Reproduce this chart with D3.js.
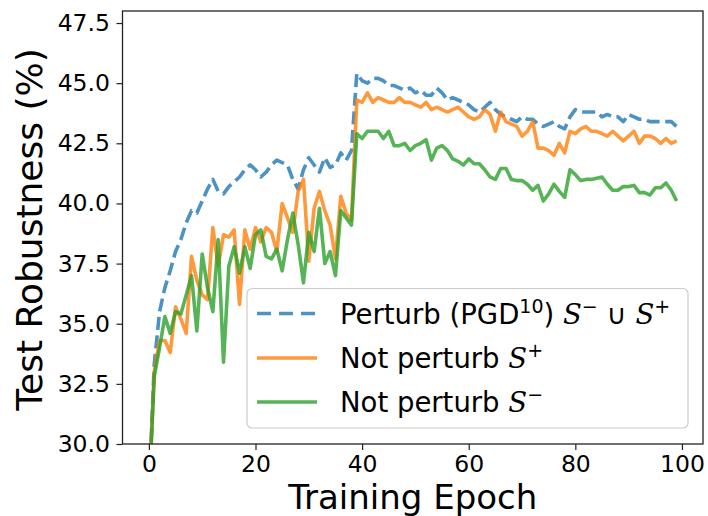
<!DOCTYPE html>
<html><head><meta charset="utf-8">
<script src="https://cdn.jsdelivr.net/npm/d3@7"></script>
<style>
body{margin:0;background:#fff}
svg{display:block}
text{font-family:"DejaVu Sans",sans-serif;fill:#000}
</style>
</head><body>
<svg id="chart" width="708" height="516"></svg>
<script>
// ---------------- data ----------------
const epochs = d3.range(100);
const perturbAll = [
 27.8,33.3,35.5,36.5,37.2,38.0,38.5,39.2,39.7,39.6,
 40.1,40.6,41.0,40.5,40.4,40.7,40.9,41.1,41.4,41.6,
 41.4,41.1,41.3,41.6,41.8,41.7,41.6,41.0,40.6,41.4,
 41.9,41.6,41.3,41.9,41.5,41.6,42.1,41.8,42.2,45.4,
 45.1,45.0,45.2,45.2,45.1,44.9,44.9,44.8,44.7,44.8,
 44.6,44.7,44.5,44.5,44.8,44.6,44.3,44.4,44.3,44.2,
 44.1,43.9,43.8,44.0,44.2,43.9,43.7,43.6,43.5,43.4,
 43.6,43.5,43.5,43.3,43.2,43.3,43.4,43.2,43.1,43.6,
 43.9,43.8,43.8,43.8,43.8,43.6,43.7,43.6,43.6,43.4,
 43.7,43.6,43.5,43.5,43.4,43.4,43.4,43.4,43.4,43.2
];
const notPerturbPlus = [
 27.8,33.0,34.3,34.3,33.8,35.7,35.2,34.6,37.8,36.8,
 36.2,36.0,39.0,37.4,38.7,38.6,38.9,35.8,38.9,38.1,
 39.0,38.4,39.0,38.8,38.0,40.0,39.4,38.8,40.5,41.0,
 37.6,39.8,40.5,39.7,39.1,37.7,40.3,39.6,39.3,44.3,
 44.2,44.6,44.2,44.4,44.3,44.2,44.2,44.4,44.2,44.2,
 44.1,44.0,44.2,43.9,44.0,43.9,43.8,43.9,44.0,43.8,
 43.6,43.5,43.6,43.9,43.7,43.0,43.8,43.4,43.3,43.2,
 42.8,43.0,43.4,42.3,42.3,42.2,42.0,42.5,42.1,43.0,
 42.9,43.1,43.2,43.0,43.0,42.9,42.8,43.0,42.8,42.6,
 42.8,43.0,42.5,42.8,42.8,42.7,42.5,42.7,42.5,42.6
];
const notPerturbMinus = [
 27.8,32.8,34.0,35.3,34.6,35.5,35.4,36.2,37.0,34.7,
 37.9,36.5,35.5,38.5,33.4,37.4,38.2,37.1,38.2,37.3,
 38.7,38.9,37.8,37.7,38.1,37.2,38.5,39.6,38.3,36.7,
 38.8,38.0,39.8,37.5,38.0,37.0,39.7,39.4,39.1,42.9,
 42.7,43.0,43.0,43.0,42.7,43.0,42.4,42.4,42.5,42.2,
 42.4,42.5,42.65,41.8,42.3,42.4,42.2,41.85,41.75,41.6,
 41.85,41.65,41.65,41.4,41.1,41.0,41.45,41.45,41.0,40.95,
 40.95,40.8,40.55,40.75,40.1,40.4,40.8,40.5,40.25,41.4,
 41.2,40.95,41.0,41.0,41.05,41.1,40.8,40.55,40.55,40.7,
 40.7,40.75,40.45,40.45,40.35,40.65,40.65,40.85,40.55,40.1
];
const xTickValues = [0,20,40,60,80,100];
const yTickValues = [30.0,32.5,35.0,37.5,40.0,42.5,45.0,47.5];
const seriesColors = ["#1f77b4","#ff7f0e","#2ca02c"];

// ---------------- layout ----------------
const svg = d3.select("#chart");
const L = 122.5, R = 703, T = 11, B = 444;
const x = d3.scaleLinear().domain([-4.95, 103.95]).range([L, R]);
const y = d3.scaleLinear().domain([30, 48]).range([B, T]);

svg.append("defs").append("clipPath").attr("id","clip")
  .append("rect").attr("x",L).attr("y",T).attr("width",R-L).attr("height",B-T);

const line = d3.line().x((d,i)=>x(epochs[i])).y(d=>y(d));
const series = [perturbAll, notPerturbPlus, notPerturbMinus];
const g = svg.append("g").attr("clip-path","url(#clip)");
series.forEach((s,k)=>{
  g.append("path").datum(s).attr("d",line)
   .attr("fill","none").attr("stroke",seriesColors[k]).attr("stroke-opacity",0.8)
   .attr("stroke-width",3.6).attr("stroke-linejoin","round")
   .attr("stroke-dasharray", k===0 ? "13,5.6" : null);
});

// axes
const xAxis = d3.axisBottom(x).tickValues(xTickValues).tickSize(6).tickPadding(5).tickFormat(d3.format("d"));
const yAxis = d3.axisLeft(y).tickValues(yTickValues).tickSize(6).tickPadding(6.5).tickFormat(d3.format(".1f"));
const gx = svg.append("g").attr("transform",`translate(0,${B})`).call(xAxis);
const gy = svg.append("g").attr("transform",`translate(${L},0)`).call(yAxis);
[gx,gy].forEach(a=>{
  a.select(".domain").remove();
  a.selectAll(".tick line").attr("stroke","#222").attr("stroke-width",1.2);
  a.selectAll(".tick text").style("font-family","DejaVu Sans").style("font-size","23.5px").attr("fill","#000");
});
// frame
svg.append("rect").attr("x",L).attr("y",T).attr("width",R-L).attr("height",B-T)
  .attr("fill","none").attr("stroke","#222").attr("stroke-width",1.3);

// axis labels
svg.append("text").attr("x",(L+R)/2).attr("y",508.5).attr("text-anchor","middle")
  .style("font-size","34px").text("Training Epoch");
svg.append("text").attr("transform",`translate(42,${(T+B)/2+2}) rotate(-90)`).attr("text-anchor","middle")
  .style("font-size","36px").text("Test Robustness (%)");

// legend
const lg = svg.append("g");
lg.append("rect").attr("x",247).attr("y",288.5).attr("width",441).attr("height",139.5).attr("rx",5)
  .attr("fill","#fff").attr("fill-opacity",0.8).attr("stroke","#cccccc").attr("stroke-width",1.2);
const rowY = [313.5, 358, 402];
const fs = 27.5;
rowY.forEach((ry,k)=>{
  lg.append("line").attr("x1",257).attr("x2",317).attr("y1",ry).attr("y2",ry)
    .attr("stroke",seriesColors[k]).attr("stroke-opacity",0.8).attr("stroke-width",3.6)
    .attr("stroke-dasharray", k===0 ? "14,8" : null);
});
// pieces: [text, kind] kind: n normal, s script S, u superscript
function legendText(ry, pieces){
  const t = lg.append("text").attr("x",340).attr("y",ry+10).style("font-size",fs+"px");
  let raised = false;
  pieces.forEach(([txt,kind])=>{
    const sp = t.append("tspan").text(txt);
    if(kind==="u"){ sp.attr("dy",raised?0:-11).style("font-size","19px"); raised=true; }
    else { if(raised){ sp.attr("dy",11); raised=false; } }
    if(kind==="s"){ sp.style("font-family","DejaVu Serif").style("font-style","italic"); }
  });
}
legendText(rowY[0], [["Perturb (PGD","n"],["10","u"],[") ","n"],["S","s"],["−","u"],[" ∪ ","n"],["S","s"],["+","u"]]);
legendText(rowY[1], [["Not perturb ","n"],["S","s"],["+","u"]]);
legendText(rowY[2], [["Not perturb ","n"],["S","s"],["−","u"]]);
</script>
</body></html>
